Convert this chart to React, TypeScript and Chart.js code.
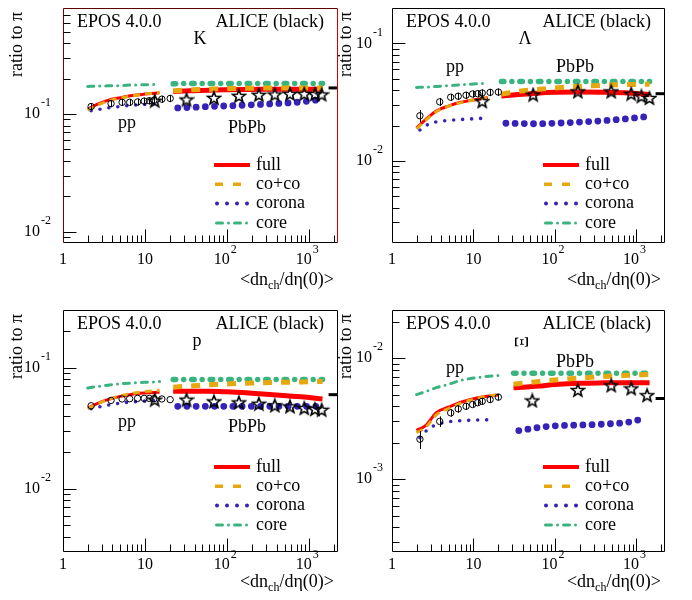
import React, { useEffect, useRef } from "react";
import { Chart, registerables } from "chart.js";

Chart.register(...registerables);

// ---------- shared x grids ----------
const ppModelX = [2.0, 2.6, 3.5, 5.0, 7.0, 10.0, 15.0];
const ppCoronaX = [2.2, 2.8, 3.5, 5.0, 7.0, 10.0, 14.0];
const pbModelX = [22, 35, 60, 100, 200, 400, 800, 1450];
const pbCoronaX = [25, 35, 60, 100, 200, 400, 800, 1250];
const xiPpModelX = [2.0, 2.6, 3.5, 5.0, 7.0, 10.0, 14.0, 20.0];
const xiPpCoronaX = [2.2, 2.8, 3.5, 5.0, 7.0, 10.0, 14.0, 17.0];
const xiPbModelX = [31, 45, 63, 100, 200, 400, 800, 1450];
const xiPbCoronaX = [36, 45, 63, 100, 200, 400, 800, 1300];
const alicePpX = [2.2, 3.85, 5.25, 6.5, 8.1, 9.75, 11.25, 12.8, 16.0, 20.2];
const alicePbX = [13.1, 32, 69, 139, 243, 380, 582, 870, 1175, 1416];
const aliceLamPbX = [12.8, 54, 191, 490, 863, 1150, 1445];
const aliceXiPbX = [52.7, 191, 490, 863, 1350];
const refMarkX = [1950];
const xTickLabels = [
  { v: 1, base: "1", sup: "" },
  { v: 10, base: "10", sup: "" },
  { v: 100, base: "10", sup: "2" },
  { v: 1000, base: "10", sup: "3" },
];
const legendLabels = ["full", "co+co", "corona", "core"];

// ---------- K ----------
const kPpFull = [0.110, 0.121, 0.131, 0.138, 0.144, 0.148, 0.152];
const kPpCoco = [0.108, 0.119, 0.129, 0.137, 0.143, 0.148, 0.153];
const kPpCorona = [0.107, 0.110, 0.113, 0.116, 0.119, 0.121, 0.123];
const kPpCore = [0.172, 0.173, 0.174, 0.175, 0.177, 0.178, 0.179];
const kPbFull = [0.156, 0.158, 0.160, 0.161, 0.162, 0.163, 0.163, 0.163];
const kPbCoco = [0.158, 0.161, 0.163, 0.165, 0.166, 0.167, 0.167, 0.167];
const kPbCorona = [0.113, 0.114, 0.116, 0.1175, 0.120, 0.123, 0.127, 0.132];
const kPbCore = [0.181, 0.182, 0.182, 0.182, 0.182, 0.182, 0.182, 0.182];
const kPpData = [0.116, 0.123, 0.126, 0.126, 0.127, 0.129, 0.130, 0.131, 0.134, 0.136];
const kPpErr = [0.07, 0.07, 0.07, 0.07, 0.07, 0.07, 0.07, 0.07, 0.07, 0.07];
const kPbData = [0.130, 0.133, 0.1375, 0.143, 0.146, 0.147, 0.149, 0.149, 0.148, 0.147];
const kRef = [0.167];

// ---------- Lambda ----------
const lPpFull = [0.0190, 0.0225, 0.0266, 0.0294, 0.0315, 0.0330, 0.0344];
const lPpCoco = [0.0187, 0.0222, 0.0262, 0.0292, 0.0313, 0.0330, 0.0346];
const lPpCorona = [0.0183, 0.0205, 0.0215, 0.0221, 0.0225, 0.0228, 0.0231];
const lPpCore = [0.0422, 0.0425, 0.0430, 0.0437, 0.0444, 0.0451, 0.0458];
const lPbFull = [0.0355, 0.0367, 0.0377, 0.0383, 0.0386, 0.0384, 0.0378, 0.0366];
const lPbCoco = [0.0370, 0.0390, 0.0405, 0.0418, 0.0430, 0.0440, 0.0446, 0.0450];
const lPbCorona = [0.0209, 0.0208, 0.0207, 0.0209, 0.0214, 0.0220, 0.0229, 0.0237];
const lPbCore = [0.0473, 0.0473, 0.0473, 0.0473, 0.0473, 0.0473, 0.0473, 0.0473];
const lPpData = [0.0242, 0.0318, 0.0348, 0.0355, 0.0362, 0.0371, 0.0373, 0.0378, 0.0383, 0.0385];
const lPpErr = [0.12, 0.08, 0.07, 0.07, 0.07, 0.07, 0.07, 0.07, 0.07, 0.07];
const lPbData = [0.0322, 0.0366, 0.0390, 0.0390, 0.0373, 0.0355, 0.0343];
const lRef = [0.0373];

// ---------- proton ----------
const pPpFull = [0.0464, 0.0505, 0.0545, 0.0580, 0.0605, 0.0618, 0.0626];
const pPpCoco = [0.0460, 0.0500, 0.0545, 0.0585, 0.0615, 0.0635, 0.0650];
const pPpCorona = [0.0458, 0.0475, 0.0490, 0.0510, 0.0522, 0.0530, 0.0537];
const pPpCore = [0.0681, 0.0700, 0.0718, 0.0736, 0.0748, 0.0758, 0.0768];
const pPbFull = [0.0638, 0.0640, 0.0640, 0.0632, 0.0615, 0.0596, 0.0575, 0.0552];
const pPbCoco = [0.0690, 0.0705, 0.0722, 0.0735, 0.0748, 0.0757, 0.0763, 0.0770];
const pPbCorona = [0.0480, 0.0480, 0.0480, 0.0480, 0.0480, 0.0480, 0.0480, 0.0480];
const pPbCore = [0.0800, 0.0800, 0.0800, 0.0800, 0.0800, 0.0800, 0.0800, 0.0800];
const pPpData = [0.0485, 0.0537, 0.0552, 0.0555, 0.0558, 0.0558, 0.0558, 0.0555, 0.0552, 0.0545];
const pPpErr = [0, 0, 0, 0, 0, 0, 0, 0, 0, 0];
const pPbData = [0.0545, 0.0545, 0.0527, 0.0517, 0.0504, 0.0488, 0.0479, 0.0464, 0.0455, 0.0449];
const pRef = [0.0599];

// ---------- Xi ----------
const xPpFull = [0.00253, 0.00278, 0.00355, 0.00395, 0.00432, 0.00462, 0.00482, 0.00496];
const xPpCoco = [0.00242, 0.00268, 0.00340, 0.00385, 0.00425, 0.00458, 0.00482, 0.00500];
const xPpCorona = [0.00220, 0.00260, 0.00282, 0.00298, 0.00304, 0.00307, 0.00309, 0.00310];
const xPpCore = [0.00500, 0.00530, 0.00570, 0.00610, 0.00655, 0.00685, 0.00703, 0.00720];
const xPbFull = [0.00570, 0.00578, 0.00588, 0.00605, 0.00620, 0.00625, 0.00627, 0.00627];
const xPbCoco = [0.00610, 0.00625, 0.00640, 0.00660, 0.00685, 0.00705, 0.00722, 0.00735];
const xPbCorona = [0.00252, 0.00258, 0.00267, 0.00276, 0.00280, 0.00285, 0.00296, 0.00321];
const xPbCore = [0.00752, 0.00750, 0.00750, 0.00750, 0.00750, 0.00750, 0.00750, 0.00752];
const xPpData = [0.00214, 0.00300, 0.00353, 0.00381, 0.00400, 0.00414, 0.00428, 0.00440, 0.00455, 0.00476];
const xPpErr = [0.17, 0.10, 0.07, 0.07, 0.06, 0.06, 0.06, 0.06, 0.06, 0.06];
const xPbData = [0.00447, 0.00545, 0.00596, 0.00562, 0.00494];
const xRef = [0.00464];

// ---------- styles ----------
const SERIF = '"Liberation Serif", "Times New Roman", "DejaVu Serif", serif';
const RED = "#ff0000";
const ORANGE = "#e6a80e";
const BLUE = "#3522b8";
const GREEN = "#3ab47f";

type PanelCfg = {
  id: string;
  box: { left: number; top: number; w: number; h: number };
  pad: { left: number; right: number; top: number; bottom: number };
  yMin: number;
  yMax: number;
  ppX: number[]; ppCorX: number[]; pbX: number[]; pbCorX: number[];
  ppFull: number[]; ppCoco: number[]; ppCorona: number[]; ppCore: number[];
  pbFull: number[]; pbCoco: number[]; pbCorona: number[]; pbCore: number[];
  dataY: number[]; dataErr: number[]; starX: number[]; starY: number[]; refY: number[];
  species: string; speciesPos: [number, number]; speciesRot?: boolean;
  ppPos: [number, number]; pbPos: [number, number];
  yLabelGap: number; xLabelDy: number; xTitleDy: number; redFrame?: boolean;
};

const PANELS: PanelCfg[] = [
  {
    id: "K", box: { left: 0, top: 0, w: 346, h: 300 }, pad: { left: 63, right: 8, top: 2, bottom: 57 },
    yMin: 0.008, yMax: 0.8,
    ppX: ppModelX, ppCorX: ppCoronaX, pbX: pbModelX, pbCorX: pbCoronaX,
    ppFull: kPpFull, ppCoco: kPpCoco, ppCorona: kPpCorona, ppCore: kPpCore,
    pbFull: kPbFull, pbCoco: kPbCoco, pbCorona: kPbCorona, pbCore: kPbCore,
    dataY: kPpData, dataErr: kPpErr, starX: alicePbX, starY: kPbData, refY: kRef,
    species: "K", speciesPos: [137, 31], ppPos: [64, 115], pbPos: [184, 120],
    yLabelGap: 12, xLabelDy: 17, xTitleDy: 37, redFrame: true,
  },
  {
    id: "L", box: { left: 330, top: 0, w: 362, h: 300 }, pad: { left: 62, right: 27, top: 2, bottom: 57 },
    yMin: 0.002, yMax: 0.2,
    ppX: ppModelX, ppCorX: ppCoronaX, pbX: pbModelX, pbCorX: pbCoronaX,
    ppFull: lPpFull, ppCoco: lPpCoco, ppCorona: lPpCorona, ppCore: lPpCore,
    pbFull: lPbFull, pbCoco: lPbCoco, pbCorona: lPbCorona, pbCore: lPbCore,
    dataY: lPpData, dataErr: lPpErr, starX: aliceLamPbX, starY: lPbData, refY: lRef,
    species: "Λ", speciesPos: [133, 31], ppPos: [63, 59], pbPos: [183, 59],
    yLabelGap: 9, xLabelDy: 17, xTitleDy: 37,
  },
  {
    id: "P", box: { left: 0, top: 300, w: 346, h: 300 }, pad: { left: 63, right: 8, top: 10, bottom: 48 },
    yMin: 0.003, yMax: 0.3,
    ppX: ppModelX, ppCorX: ppCoronaX, pbX: pbModelX, pbCorX: pbCoronaX,
    ppFull: pPpFull, ppCoco: pPpCoco, ppCorona: pPpCorona, ppCore: pPpCore,
    pbFull: pPbFull, pbCoco: pPbCoco, pbCorona: pPbCorona, pbCore: pPbCore,
    dataY: pPpData, dataErr: pPpErr, starX: alicePbX, starY: pPbData, refY: pRef,
    species: "p", speciesPos: [134, 31], ppPos: [64, 112], pbPos: [184, 117],
    yLabelGap: 12, xLabelDy: 13, xTitleDy: 30,
  },
  {
    id: "X", box: { left: 330, top: 300, w: 362, h: 300 }, pad: { left: 62, right: 27, top: 10, bottom: 48 },
    yMin: 0.00025, yMax: 0.025,
    ppX: xiPpModelX, ppCorX: xiPpCoronaX, pbX: xiPbModelX, pbCorX: xiPbCoronaX,
    ppFull: xPpFull, ppCoco: xPpCoco, ppCorona: xPpCorona, ppCore: xPpCore,
    pbFull: xPbFull, pbCoco: xPbCoco, pbCorona: xPbCorona, pbCore: xPbCore,
    dataY: xPpData, dataErr: xPpErr, starX: aliceXiPbX, starY: xPbData, refY: xRef,
    species: "Ξ", speciesPos: [131, 32], speciesRot: true, ppPos: [63, 58], pbPos: [183, 52],
    yLabelGap: 9, xLabelDy: 13, xTitleDy: 30,
  },
];

function makeStar(): HTMLCanvasElement {
  const c = document.createElement("canvas");
  const s = 16;
  c.width = s;
  c.height = s;
  const g = c.getContext("2d")!;
  const cx = s / 2, cy = s / 2 + 0.6, R = 6.6, r = 2.8;
  g.beginPath();
  for (let i = 0; i < 10; i++) {
    const a = -Math.PI / 2 + (i * Math.PI) / 5;
    const rad = i % 2 === 0 ? R : r;
    const px = cx + rad * Math.cos(a), py = cy + rad * Math.sin(a);
    if (i === 0) g.moveTo(px, py); else g.lineTo(px, py);
  }
  g.closePath();
  g.strokeStyle = "#000";
  g.lineWidth = 1.6;
  g.lineJoin = "miter";
  g.stroke();
  return c;
}

const pts = (xs: number[], ys: number[]) => xs.map((x, i) => ({ x, y: ys[i] }));

function lineDs(data: any[], color: string, width: number, dash: number[], cap: string, order: number) {
  return {
    data, showLine: true, borderColor: color, backgroundColor: color, borderWidth: width,
    borderDash: dash, borderCapStyle: cap, borderJoinStyle: "round", pointRadius: 0, pointHoverRadius: 0,
    fill: false, cubicInterpolationMode: "monotone", order,
  };
}

function buildDatasets(p: PanelCfg, star: HTMLCanvasElement) {
  return [
    lineDs(pts(p.ppX, p.ppCore), GREEN, 3, [6, 6, 0, 6], "round", 6),
    lineDs(pts(p.pbX, p.pbCore), GREEN, 5.5, [2.5, 8, 0, 8], "round", 6),
    lineDs(pts(p.ppCorX, p.ppCorona), BLUE, 3.6, [0, 9], "round", 5),
    lineDs(pts(p.pbCorX, p.pbCorona), BLUE, 6.8, [0, 9.2], "round", 5),
    lineDs(pts(p.ppX, p.ppFull), RED, 3, [], "butt", 4),
    lineDs(pts(p.pbX, p.pbFull), RED, 5, [], "butt", 4),
    lineDs(pts(p.ppX, p.ppCoco), ORANGE, 3, [7, 5], "butt", 3),
    lineDs(pts(p.pbX, p.pbCoco), ORANGE, 5, [9, 9], "butt", 3),
    {
      data: pts(alicePpX, p.dataY), showLine: false, pointStyle: "circle", pointRadius: 3.2,
      pointBorderColor: "#000", pointBorderWidth: 1, pointBackgroundColor: "rgba(0,0,0,0)", order: 1,
    },
    { data: pts(p.starX, p.starY), showLine: false, pointStyle: star, pointRadius: 7, order: 0 },
    {
      data: pts(refMarkX, p.refY), showLine: false, pointStyle: "line", pointRadius: 4.5,
      pointBorderWidth: 3, pointBorderColor: "#000", order: 0, clip: false,
    },
  ];
}

function drawSup(ctx: CanvasRenderingContext2D, base: string, sup: string, x: number, y: number, align: "right" | "center", supDy: number) {
  ctx.font = `16px ${SERIF}`;
  const wb = ctx.measureText(base).width;
  ctx.font = `12px ${SERIF}`;
  const ws = sup ? ctx.measureText(sup).width + 1 : 0;
  const total = wb + ws;
  const x0 = align === "right" ? x - total : x - total / 2;
  ctx.textAlign = "left";
  ctx.textBaseline = "middle";
  ctx.font = `16px ${SERIF}`;
  ctx.fillText(base, x0, y);
  if (sup) {
    ctx.font = `12px ${SERIF}`;
    ctx.fillText(sup, x0 + wb + 1, y - supDy);
  }
}

function makeDecor(p: PanelCfg) {
  return {
    id: "decor" + p.id,
    afterDatasetsDraw(chart: any) {
      const ctx: CanvasRenderingContext2D = chart.ctx;
      const xs = chart.scales.x, ys = chart.scales.y;
      ctx.save();
      ctx.strokeStyle = "#000";
      ctx.lineWidth = 1;
      p.dataY.forEach((v, i) => {
        const e = p.dataErr[i];
        if (!e) return;
        const x = Math.round(xs.getPixelForValue(alicePpX[i])) + 0.5;
        ctx.beginPath();
        ctx.moveTo(x, ys.getPixelForValue(v * (1 + e)));
        ctx.lineTo(x, ys.getPixelForValue(v * (1 - e)));
        ctx.stroke();
      });
      ctx.restore();
    },
    afterDraw(chart: any) {
      const ctx: CanvasRenderingContext2D = chart.ctx;
      const { left, right, top, bottom } = chart.chartArea;
      const xs = chart.scales.x, ys = chart.scales.y;
      ctx.save();
      ctx.lineWidth = 1;
      ctx.setLineDash([]);
      const seg = (x1: number, y1: number, x2: number, y2: number, c: string) => {
        ctx.strokeStyle = c;
        ctx.beginPath();
        ctx.moveTo(x1, y1);
        ctx.lineTo(x2, y2);
        ctx.stroke();
      };
      const L = Math.round(left) + 0.5, R = Math.round(right) - 0.5, T = Math.round(top) + 0.5, B = Math.round(bottom) - 0.5;
      seg(L, T, R, T, p.redFrame ? "#5a0000" : "#000");
      seg(L, B, R, B, "#000");
      seg(L, T, L, B, p.redFrame ? "#7a0000" : "#000");
      seg(R, T, R, B, p.redFrame ? "#d40000" : "#000");
      // y ticks
      for (let e = -5; e <= 1; e++) {
        for (let m = 1; m <= 9; m++) {
          const v = m * Math.pow(10, e);
          if (v < p.yMin * 1.001 || v > p.yMax * 0.999) continue;
          const y = Math.round(ys.getPixelForValue(v)) + 0.5;
          const len = m === 1 ? 13 : 7;
          seg(L, y, L + len, y, "#000");
        }
      }
      // x ticks
      for (let e = 0; e <= 3; e++) {
        for (let m = 1; m <= 9; m++) {
          const v = m * Math.pow(10, e);
          if (v <= 1.001 || v > 2239) continue;
          const x = Math.round(xs.getPixelForValue(v)) + 0.5;
          const len = m === 1 ? 13 : 7;
          seg(x, B, x, B - len, "#000");
        }
      }
      ctx.fillStyle = "#000";
      // y labels
      for (let e = -5; e <= 1; e++) {
        const v = Math.pow(10, e);
        if (v < p.yMin * 0.999 || v > p.yMax * 1.001) continue;
        const y = ys.getPixelForValue(v);
        drawSup(ctx, "10", String(e), left - p.yLabelGap, y, "right", 11);
      }
      // x labels
      xTickLabels.forEach((t) => {
        const x = xs.getPixelForValue(t.v);
        drawSup(ctx, t.base, t.sup, x - (t.sup ? 2 : 0), bottom + p.xLabelDy, "center", 10);
      });
      // x title
      {
        const y = bottom + p.xTitleDy;
        const a = "<dn", sub = "ch", b = "/dη(0)>";
        ctx.font = `18px ${SERIF}`;
        const wa = ctx.measureText(a).width, wbb = ctx.measureText(b).width;
        ctx.font = `12px ${SERIF}`;
        const wsub = ctx.measureText(sub).width;
        const x0 = right - 4 - (wa + wsub + wbb);
        ctx.textAlign = "left";
        ctx.textBaseline = "middle";
        ctx.font = `18px ${SERIF}`;
        ctx.fillText(a, x0, y);
        ctx.font = `12px ${SERIF}`;
        ctx.fillText(sub, x0 + wa, y + 6);
        ctx.font = `18px ${SERIF}`;
        ctx.fillText(b, x0 + wa + wsub, y);
      }
      // y title
      ctx.save();
      ctx.translate(left - 45.5, top + 4);
      ctx.rotate(-Math.PI / 2);
      ctx.font = `18px ${SERIF}`;
      ctx.textAlign = "right";
      ctx.textBaseline = "middle";
      ctx.fillText("ratio to π", 0, 0);
      ctx.restore();
      // header texts
      ctx.font = `18px ${SERIF}`;
      ctx.textBaseline = "middle";
      ctx.textAlign = "left";
      ctx.fillText("EPOS 4.0.0", left + 14, top + 14.5);
      ctx.textAlign = "right";
      ctx.fillText("ALICE (black)", right - 14, top + 14.5);
      ctx.textAlign = "center";
      if (p.speciesRot) {
        ctx.save();
        ctx.translate(left + p.speciesPos[0], top + p.speciesPos[1]);
        ctx.rotate(-Math.PI / 2);
        ctx.fillText(p.species, 0, 0);
        ctx.restore();
      } else {
        ctx.fillText(p.species, left + p.speciesPos[0], top + p.speciesPos[1]);
      }
      ctx.fillText("pp", left + p.ppPos[0], top + p.ppPos[1]);
      ctx.fillText("PbPb", left + p.pbPos[0], top + p.pbPos[1]);
      // legend
      const lx0 = left + 151, lx1 = left + 187, tx = left + 193;
      const rows = [0, 1, 2, 3].map((i) => top + 157 + 19.3 * i);
      const sample = (y: number, color: string, w: number, dash: number[], cap: CanvasLineCap, xa: number, xb: number) => {
        ctx.save();
        ctx.strokeStyle = color;
        ctx.lineWidth = w;
        ctx.setLineDash(dash);
        ctx.lineCap = cap;
        ctx.beginPath();
        ctx.moveTo(xa, y);
        ctx.lineTo(xb, y);
        ctx.stroke();
        ctx.restore();
      };
      sample(rows[0], RED, 4, [], "butt", lx0, lx1);
      sample(rows[1], ORANGE, 3.5, [8, 10], "butt", lx0 + 1, lx1);
      sample(rows[2], BLUE, 4, [0, 10], "round", lx0 + 3, lx1 - 2.5);
      sample(rows[3], GREEN, 3, [6, 6, 0, 6], "round", lx0 + 2.5, lx1 - 2.5);
      ctx.fillStyle = "#000";
      ctx.font = `18px ${SERIF}`;
      ctx.textAlign = "left";
      ctx.textBaseline = "middle";
      legendLabels.forEach((t, i) => ctx.fillText(t, tx, rows[i]));
      ctx.restore();
    },
  };
}

function Panel({ cfg }: { cfg: PanelCfg }) {
  const ref = useRef<HTMLCanvasElement>(null);
  useEffect(() => {
    const star = makeStar();
    const chart = new Chart(ref.current as HTMLCanvasElement, {
      type: "scatter",
      data: { datasets: buildDatasets(cfg, star) as any },
      options: {
        responsive: false,
        maintainAspectRatio: false,
        animation: false,
        events: [],
        layout: { padding: cfg.pad },
        plugins: { legend: { display: false }, tooltip: { enabled: false } },
        scales: {
          x: { type: "logarithmic", min: 1, max: 2240, display: false },
          y: { type: "logarithmic", min: cfg.yMin, max: cfg.yMax, display: false },
        },
      } as any,
      plugins: [makeDecor(cfg)],
    });
    return () => chart.destroy();
  }, [cfg]);
  return (
    <canvas
      ref={ref}
      width={cfg.box.w}
      height={cfg.box.h}
      style={{ position: "absolute", left: cfg.box.left, top: cfg.box.top, width: cfg.box.w, height: cfg.box.h }}
    />
  );
}

export default function App() {
  return (
    <div style={{ position: "absolute", left: 0, top: 0, width: 692, height: 600, background: "#fff" }}>
      {PANELS.map((p) => (
        <Panel key={p.id} cfg={p} />
      ))}
    </div>
  );
}
